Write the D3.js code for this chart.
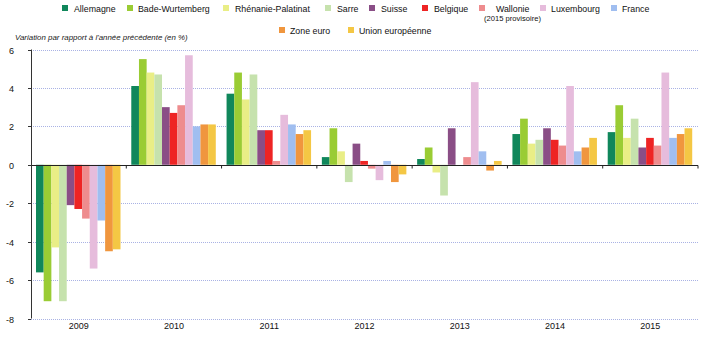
<!DOCTYPE html>
<html>
<head>
<meta charset="utf-8">
<script src="https://cdn.jsdelivr.net/npm/d3@7"></script>
<style>
  body { margin: 0; background: #fff; }
  svg { font-family: "Liberation Sans", Arial, sans-serif; }
</style>
</head>
<body>
<svg id="chart" width="708" height="338"></svg>
<script>
// annual GDP growth, % change on previous year
var years = ["2009", "2010", "2011", "2012", "2013", "2014", "2015"];
var regions = ["Allemagne", "Bade-Wurtemberg", "Rhénanie-Palatinat", "Sarre", "Suisse",
    "Belgique", "Wallonie", "Luxembourg", "France", "Zone euro", "Union européenne"];

var allemagne   = [-5.6, 4.1, 3.7, 0.4, 0.3, 1.6, 1.7];
var badeWurt    = [-7.1, 5.5, 4.8, 1.9, 0.9, 2.4, 3.1];
var rhenanie    = [-4.3, 4.8, 3.4, 0.7, -0.4, 1.1, 1.4];
var sarre       = [-7.1, 4.7, 4.7, -0.9, -1.6, 1.3, 2.4];
var suisse      = [-2.1, 3.0, 1.8, 1.1, 1.9, 1.9, 0.9];
var belgique    = [-2.3, 2.7, 1.8, 0.2, 0.0, 1.3, 1.4];
var wallonie    = [-2.8, 3.1, 0.2, -0.2, 0.4, 1.0, 1.0];
var luxembourg  = [-5.4, 5.7, 2.6, -0.8, 4.3, 4.1, 4.8];
var france      = [-2.9, 2.0, 2.1, 0.2, 0.7, 0.7, 1.4];
var zoneEuro    = [-4.5, 2.1, 1.6, -0.9, -0.3, 0.9, 1.6];
var unionEuro   = [-4.4, 2.1, 1.8, -0.5, 0.2, 1.4, 1.9];

var yTicks = [6, 4, 2, 0, -2, -4, -6, -8];

var series = [allemagne, badeWurt, rhenanie, sarre, suisse, belgique,
    wallonie, luxembourg, france, zoneEuro, unionEuro];

var colors = ["#10875b", "#9acc34", "#e9ee86", "#c6e2ad", "#8a4e86", "#ee2424",
    "#ee8c8e", "#e6bcdc", "#a0bef0", "#f0963e", "#f4c744"];

// legend layout: [swatch x, text x, row]
var legendPos = [[62, 74, 0], [127, 138, 0], [223, 235, 0], [325, 337, 0], [369, 381, 0],
    [422, 434, 0], [479, 496, 0], [540, 551, 0], [611, 622, 0], [279, 290, 1], [348, 359, 1]];

var svg = d3.select("#chart");

var mLeft = 31, mRight = 698, mTop = 49.5, mBottom = 318.5;

var x = d3.scaleBand().domain(years).range([mLeft, mRight]);
var xs = d3.scaleBand().domain(regions).range([5, 89.5]);
var y = d3.scaleLinear().domain([-8, 6]).range([mBottom, mTop]);

// dotted grid
svg.append("g")
    .selectAll("line")
    .data(yTicks.filter((d) => d != 0))
    .enter()
    .append("line")
    .attr("x1", mLeft)
    .attr("x2", mRight)
    .attr("y1", (d) => Math.round(y(d)) + 0.5)
    .attr("y2", (d) => Math.round(y(d)) + 0.5)
    .style("stroke", "#a9b2e4")
    .style("stroke-dasharray", "1,1");

// bars
var rows = [];
years.forEach(function (yr, i) {
    regions.forEach(function (r, j) {
        rows.push({"year": yr, "region": r, "value": series[j][i], "color": colors[j]});
    });
});

svg.append("g")
    .selectAll("rect")
    .data(rows)
    .enter()
    .append("rect")
    .attr("x", (d) => x(d.year) + xs(d.region))
    .attr("width", xs.bandwidth())
    .attr("y", (d) => y(Math.max(0, d.value)))
    .attr("height", (d) => Math.abs(y(d.value) - y(0)))
    .style("fill", (d) => d.color);

// zero line with year separators
var zeroY = Math.round(y(0)) + 0.5;
svg.append("line")
    .attr("x1", mLeft).attr("x2", mRight)
    .attr("y1", zeroY).attr("y2", zeroY)
    .style("stroke", "#222");

svg.append("g")
    .selectAll("line")
    .data(years.slice(1).concat(["end"]))
    .enter()
    .append("line")
    .attr("x1", (d) => (d == "end" ? mRight : x(d)))
    .attr("x2", (d) => (d == "end" ? mRight : x(d)))
    .attr("y1", zeroY)
    .attr("y2", zeroY + 3)
    .style("stroke", "#222");

// y axis
svg.append("line")
    .attr("x1", mLeft + 0.5).attr("x2", mLeft + 0.5)
    .attr("y1", mTop).attr("y2", mBottom)
    .style("stroke", "#333");

var yt = svg.append("g")
    .selectAll("g")
    .data(yTicks)
    .enter()
    .append("g")
    .attr("transform", (d) => "translate(0," + (Math.round(y(d)) + 0.5) + ")");
yt.append("line")
    .attr("x1", mLeft - 3).attr("x2", mLeft)
    .style("stroke", "#333");
yt.append("text")
    .text((d) => d)
    .attr("x", 14)
    .attr("dy", "0.35em")
    .attr("text-anchor", "end")
    .attr("font-size", 9)
    .style("fill", "#111");

// year labels
svg.append("g")
    .selectAll("text")
    .data(years)
    .enter()
    .append("text")
    .text((d) => d)
    .attr("x", (d) => x(d) + x.bandwidth() / 2)
    .attr("y", 329)
    .attr("text-anchor", "middle")
    .attr("font-size", 9)
    .style("fill", "#111");

// axis title
svg.append("text")
    .text("Variation par rapport à l'année précédente (en %)")
    .attr("x", 15)
    .attr("y", 40)
    .attr("font-size", 7.9)
    .attr("font-style", "italic")
    .style("fill", "#222");

// legend
var lg = svg.append("g")
    .selectAll("g")
    .data(regions)
    .enter()
    .append("g");
lg.append("rect")
    .attr("x", (d, i) => legendPos[i][0])
    .attr("y", (d, i) => 5 + legendPos[i][2] * 22)
    .attr("width", 6)
    .attr("height", 6)
    .style("fill", (d, i) => colors[i]);
lg.append("text")
    .text((d) => d)
    .attr("x", (d, i) => legendPos[i][1])
    .attr("y", (d, i) => 12 + legendPos[i][2] * 22)
    .attr("font-size", 8.8)
    .style("fill", "#111");

svg.append("text")
    .text("(2015 provisoire)")
    .attr("x", 484)
    .attr("y", 21)
    .attr("font-size", 7.6)
    .style("fill", "#111");
</script>
</body>
</html>
